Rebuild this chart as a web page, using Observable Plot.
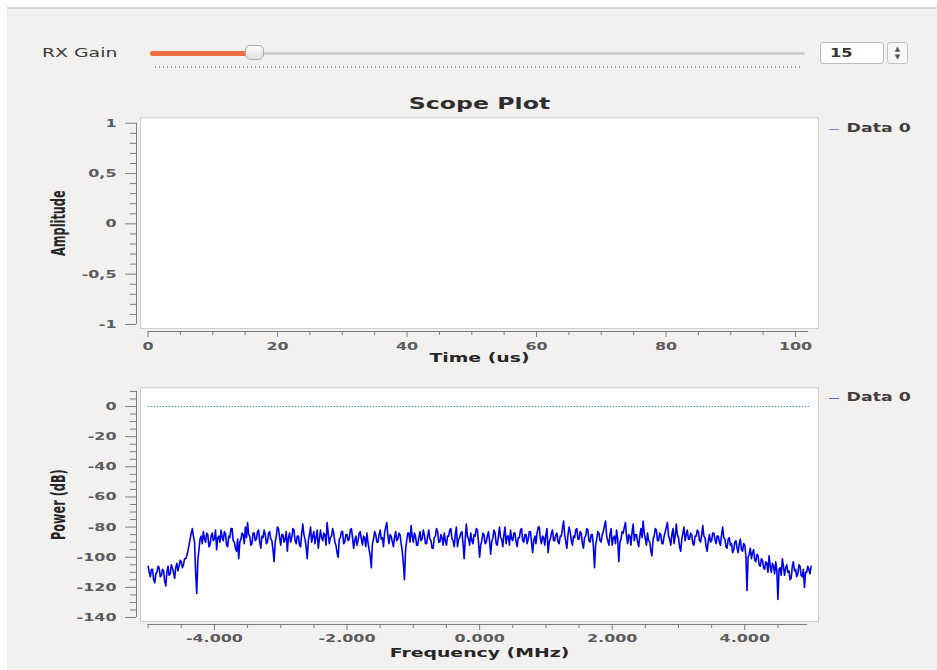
<!DOCTYPE html>
<html>
<head>
<meta charset="utf-8">
<script src="https://cdn.jsdelivr.net/npm/d3@7"></script>
<script src="https://cdn.jsdelivr.net/npm/@observablehq/plot@0.6"></script>
<style>
  html, body { margin: 0; padding: 0; background: #ffffff; width: 937px; height: 670px; overflow: hidden; }
  #win { position: absolute; left: 7px; top: 7px; right: 0; bottom: 0; background: #f2f1f0; border-top: 2px solid #d4d4d2; }
  .wide { position: absolute; transform-origin: 0 50%; white-space: nowrap; }
  #rxlabel { left: 42px; top: 45px; font: 13px "DejaVu Sans"; color: #3a3a3a; line-height: 16px; transform: scaleX(1.45); }
  #trackBg { position: absolute; left: 150px; top: 52px; width: 655px; height: 3px; background: #cfcfcd; border-radius: 2px; }
  #trackFill { position: absolute; left: 150px; top: 51px; width: 100px; height: 5px; background: #ec6f40; border-radius: 3px; }
  #handle { position: absolute; left: 245px; top: 45px; width: 17px; height: 13px; background: linear-gradient(#fbfbfb, #e2e2e2); border: 1px solid #a9a9a9; border-radius: 5px 5px 6px 6px; }
  #dots { position: absolute; left: 155px; top: 66px; width: 646px; height: 2px; background: repeating-linear-gradient(90deg, #a3a3a3 0 1.5px, transparent 1.5px 4px); }
  #spin { position: absolute; left: 820px; top: 42px; width: 62px; height: 20px; background: #ffffff; border: 1px solid #bdbdbb; border-radius: 3px; }
  #spinTxt { left: 830px; top: 45px; font: bold 13px "DejaVu Sans"; color: #333; line-height: 16px; transform: scaleX(1.25); }
  #arrows { position: absolute; left: 887px; top: 42px; width: 19px; height: 20px; background: #f7f7f6; border: 1px solid #c2c2c0; border-radius: 3px; font: 7px "DejaVu Sans"; color: #555; text-align: center; line-height: 8px; }
  #scope { position: absolute; left: 0; top: 90px; }
  #fft { position: absolute; left: 0; top: 380px; }
</style>
</head>
<body>
<div id="win"></div>
<div id="rxlabel" class="wide">RX Gain</div>
<div id="trackBg"></div>
<div id="trackFill"></div>
<div id="handle"></div>
<div id="dots"></div>
<div id="spin"></div>
<div id="spinTxt" class="wide">15</div>
<div id="arrows"><div style="margin-top:2px">▲</div><div>▼</div></div>
<div id="scope"></div>
<div id="fft"></div>
<script>
// ---------- data ----------
const scopeTitle = ["Scope Plot"];
const timeLabel = ["Time (us)"];
const ampLabel = ["Amplitude"];
const freqLabel = ["Frequency (MHz)"];
const powerLabel = ["Power (dB)"];
const legendNames = ["Data 0"];

const timeMajorTicks = [0, 20, 40, 60, 80, 100];
const timeMinorTicks = [5, 10, 15, 25, 30, 35, 45, 50, 55, 65, 70, 75, 85, 90, 95];
const timeSpan = [0, 102];
const ampMajorTicks = [-1, -0.5, 0, 0.5, 1];
const ampMinorTicks = [-0.9, -0.8, -0.7, -0.6, -0.4, -0.3, -0.2, -0.1, 0.1, 0.2, 0.3, 0.4, 0.6, 0.7, 0.8, 0.9];
const scopeSamples = []; // the scope trace is empty in the reference

const freqMajorTicks = [-4, -2, 0, 2, 4];
const freqMinorTicks = [-5, -4.5, -3.5, -3, -2.5, -1.5, -1, -0.5, 0.5, 1, 1.5, 2.5, 3, 3.5, 4.5];
const freqSpan = [-5, 4.95];
const powerMajorTicks = [-140, -120, -100, -80, -60, -40, -20, 0];
const powerMinorTicks = [-135, -130, -125, -115, -110, -105, -95, -90, -85, -75, -70, -65, -55, -50, -45, -35, -30, -25, -15, -10, -5, 5, 10];
const powerSpan = [-140, 10];
const refLevel = [0];

const freqStart = -5;          // MHz, first bin
const freqStep = 1 / 60;       // MHz per bin
const powerDb = [
  // -5.0 .. -4.45 MHz: noise floor
  -106,-110, -113,-108, -108,-115, -117,-111, -110,-106, -107,-113, -112,-108, -109,-116, -119,-110,
  -106,-112, -111,-105, -107,-110, -114,-107, -104,-109, -106,-102, -103,-107, -105,-101,
  // band edge
  -101,-99, -96,-92, -88,-84, -81,-86, -90,-110, -124,-102, -95,-88,
  // pass band
  -86,-91, -83,-88, -90,-84, -85,-93, -92,-86, -84,-89, -88,-82, -95,-87, -86,-90, -82,-87,
  -89,-83, -84,-92, -93,-86, -87,-81, -81,-89, -90,-94, -96,-88, -101,-90, -88,-84, -85,-91,
  -80,-87, -77,-85, -86,-92, -91,-84, -84,-89, -88,-83, -82,-90, -94,-86, -87,-82, -85,-91,
  -90,-84, -83,-88, -89,-95, -103,-90, -86,-80, -81,-87, -92,-85, -85,-90, -88,-83, -96,-87,
  -84,-90, -87,-81, -82,-89, -91,-86, -86,-92, -93,-84, -78,-85, -88,-93, -101,-89, -85,-80,
  -90,-86, -83,-91, -87,-82, -94,-88, -82,-87, -89,-84, -85,-92, -77,-84, -91,-87, -86,-81,
  -84,-90, -92,-97, -100,-88, -87,-83, -83,-91, -90,-85, -85,-89, -88,-82, -81,-87, -94,-89,
  -86,-92, -89,-84, -83,-88, -92,-86, -87,-93, -84,-90, -95,-99, -107,-91, -88,-83, -85,-90,
  -90,-85, -82,-88, -87,-93, -84,-80, -77,-86, -91,-85, -86,-90, -93,-87, -83,-89, -88,-84,
  -85,-91, -96,-104, -115,-95, -89,-84, -84,-90, -79,-86, -90,-84, -86,-92, -92,-87, -83,-89,
  -88,-82, -85,-91, -91,-86, -82,-88, -89,-94, -94,-87, -86,-81, -83,-90, -90,-85, -87,-92,
  -84,-89, -92,-86, -86,-82, -81,-88, -89,-93, -85,-80, -93,-88, -87,-84, -83,-91, -101,-88,
  -78,-86, -88,-92, -84,-89, -91,-85, -86,-81, -82,-90, -100,-92, -89,-84, -85,-91, -90,-86,
  -83,-89, -98,-90, -87,-82, -84,-91, -92,-86, -80,-87, -88,-93, -85,-80, -91,-86, -86,-92,
  -82,-88, -89,-84, -84,-90, -93,-87, -87,-82, -81,-89, -90,-85, -85,-91, -88,-83, -83,-90,
  -97,-89, -86,-91, -84,-80, -80,-88, -91,-86, -87,-92, -85,-81, -97,-90, -88,-84, -82,-89,
  -89,-85, -84,-90, -91,-86, -86,-81, -76,-85, -90,-94, -85,-80, -83,-89, -92,-86, -87,-82,
  -81,-88, -88,-83, -84,-91, -94,-87, -86,-81, -82,-89, -90,-85, -85,-93, -107,-92, -88,-83,
  -84,-89, -90,-85, -83,-79, -76,-86, -89,-92, -85,-81, -92,-87, -86,-91, -82,-88, -103,-90,
  -88,-83, -84,-80, -77,-86, -91,-85, -86,-92, -83,-78, -89,-85, -85,-90, -93,-86, -81,-87,
  -76,-84, -88,-92, -84,-89, -90,-96, -99,-88, -86,-81, -82,-89, -89,-84, -85,-91, -91,-86,
  -83,-80, -77,-86, -88,-92, -85,-81, -91,-86, -78,-85, -87,-93, -96,-88, -84,-80, -89,-85,
  -82,-88, -88,-84, -85,-91, -92,-86, -86,-82, -83,-89, -90,-85, -79,-86, -87,-93, -96,-89,
  -85,-90, -89,-84, -84,-88, -91,-86,
  // roll-off
  -86,-90, -92,-85, -80,-87, -88,-93, -94,-88, -87,-92, -91,-97, -95,-90, -89,-94, -97,-91,
  -88,-95, -96,-91, -92,-99, -122,-100, -98,-94, -101,-97, -95,-102, -103,-98, -99,-105, -106,-101,
  -102,-107, -108,-103, -104,-110, -99,-106, -110,-104, -106,-111, -103,-109, -128,-108, -107,-112, -101,-106,
  -112,-107, -105,-110, -109,-115, -114,-106, -103,-109, -108,-113, -111,-105, -106,-112, -113,-108, -120,-110,
  -110,-106, -108,-111, -106
];
const spectrum = powerDb.map((p, i) => ({f: freqStart + i * freqStep, p}));

// ---------- styling ----------
const STRETCH = 1.45;          // the screenshot is stretched horizontally
const STRETCH_ROT = 1.75;      // thickness of the rotated axis titles
const axisGray = "#7d7d7d";
const tickText = "#5c5c5c";
const titleText = "#262626";
const legendText = "#473d3d";
const W = 937;
const ML = 140, MR = 119;

// widen every text about its own anchor (local x/y attributes such as "0.32em" stay untouched)
function stretchText(svg) {
  svg.querySelectorAll("text").forEach(el => {
    const t = el.getAttribute("transform");
    if (!t) return;
    el.setAttribute("transform", t + (/rotate/.test(t) ? ` scale(1,${STRETCH_ROT})` : ` scale(${STRETCH},1)`));
  });
}

const commaFmt = d => String(d).replace(".", ",");
const txt = d => d;

function axesMarks(o) {
  return [
    Plot.ruleX([o.xDomain[0]], {y1: o.ySpan[0], y2: o.ySpan[1], dx: -4, stroke: axisGray}),
    Plot.ruleY([o.yDomain[0]], {x1: o.xSpan[0], x2: o.xSpan[1], dy: 3, stroke: axisGray}),
    Plot.axisY({ticks: o.yMajor, tickSize: 11, tickPadding: 9, dx: -4, tickFormat: o.yFmt, label: null,
      fontSize: 11, fill: tickText, stroke: axisGray}),
    Plot.axisY({ticks: o.yMinor, tickSize: 6, dx: -4, tickFormat: () => "", label: null, stroke: axisGray}),
    Plot.axisX({ticks: o.xMajor, tickSize: 6, tickPadding: o.xPad, dy: 3, tickFormat: o.xFmt, label: null,
      fontSize: 11, fill: tickText, stroke: axisGray}),
    Plot.axisX({ticks: o.xMinor, tickSize: 4, dy: 3, tickFormat: () => "", label: null, stroke: axisGray}),
    Plot.text(o.xLabel, {text: txt, frameAnchor: "bottom", lineAnchor: "middle", dy: o.xLabelDy,
      fontSize: 13, fill: titleText}),
    Plot.text(o.yLabel, {text: txt, frameAnchor: "left", textAnchor: "middle", lineAnchor: "middle",
      dx: -82, rotate: -90, fontSize: 11.3, fill: titleText}),
    Plot.text(["—"], {text: txt, frameAnchor: "top-right", lineAnchor: "middle", dx: 10, dy: o.legendDy,
      textAnchor: "start", fontSize: 7.5, fontWeight: "bold", fill: o.legendColor}),
    Plot.text(legendNames, {text: txt, frameAnchor: "top-right", lineAnchor: "middle", dx: 28, dy: o.legendDy,
      textAnchor: "start", fontSize: 12, fill: legendText})
  ];
}

// ---------- scope plot ----------
const scopeX = [-1.158, 103.544];
const scopeY = [-1.04, 1.054];
const scope = Plot.plot({
  width: W, height: 290,
  marginLeft: ML, marginRight: MR, marginTop: 27.3, marginBottom: 52,
  style: {background: "transparent", overflow: "visible", fontFamily: "DejaVu Sans", fontWeight: "bold"},
  x: {domain: scopeX},
  y: {domain: scopeY},
  marks: [
    Plot.frame({fill: "white", stroke: "#cdcdcb"}),
    Plot.line(scopeSamples, {x: "t", y: "v", stroke: "#0000ff", clip: true}),
    Plot.text(scopeTitle, {text: txt, frameAnchor: "top", lineAnchor: "middle", dy: -14.3,
      fontSize: 16.3, fill: "#2e2e2e"}),
    ...axesMarks({
      xDomain: scopeX, yDomain: scopeY, xSpan: timeSpan, ySpan: [-1, 1],
      yMajor: ampMajorTicks, yMinor: ampMinorTicks, yFmt: commaFmt,
      xMajor: timeMajorTicks, xMinor: timeMinorTicks, xFmt: d => String(d), xPad: 4.5,
      xLabel: timeLabel, yLabel: ampLabel, xLabelDy: 29, legendDy: 10.7, legendColor: "#7a7af5"
    })
  ]
});
stretchText(scope);
document.getElementById("scope").appendChild(scope);

// ---------- spectrum plot ----------
const fftX = [-5.115, 5.112];
const fftY = [-142.66, 12.43];
const fft = Plot.plot({
  width: W, height: 290,
  marginLeft: ML, marginRight: MR, marginTop: 7.3, marginBottom: 49,
  style: {background: "transparent", overflow: "visible", fontFamily: "DejaVu Sans", fontWeight: "bold"},
  x: {domain: fftX},
  y: {domain: fftY},
  marks: [
    Plot.frame({fill: "white", stroke: "#cdcdcb"}),
    Plot.ruleY(refLevel, {x1: freqStart, x2: freqStart + (powerDb.length - 1) * freqStep,
      stroke: "#3aa6a6", strokeWidth: 1, strokeDasharray: "1.5,1.5"}),
    Plot.line(spectrum, {x: "f", y: "p", stroke: "#0000f0", strokeWidth: 1.6, clip: true}),
    ...axesMarks({
      xDomain: fftX, yDomain: fftY, xSpan: freqSpan, ySpan: powerSpan,
      yMajor: powerMajorTicks, yMinor: powerMinorTicks, yFmt: d => String(d),
      xMajor: freqMajorTicks, xMinor: freqMinorTicks, xFmt: d => d.toFixed(3), xPad: 3.5,
      xLabel: freqLabel, yLabel: powerLabel, xLabelDy: 31.3, legendDy: 9.7, legendColor: "#6060e0"
    })
  ]
});
stretchText(fft);
document.getElementById("fft").appendChild(fft);
</script>
</body>
</html>
